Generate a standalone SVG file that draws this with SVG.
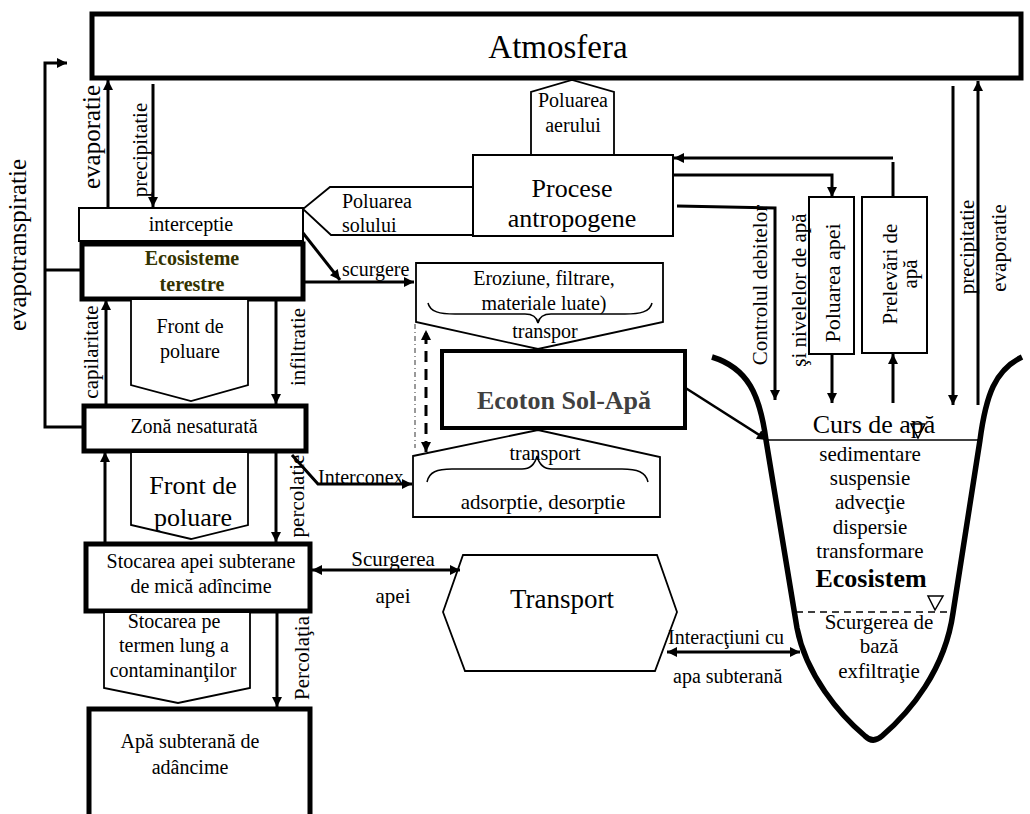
<svg xmlns="http://www.w3.org/2000/svg" width="1030" height="814" viewBox="0 0 1030 814">
<style>
  text { font-family: 'Liberation Serif', 'Times New Roman', Times, 'Noto Serif', 'DejaVu Serif', serif; fill: #000; font-size: 21px; }
  .c { text-anchor: middle; }
  .box { fill: #fff; stroke: #000; stroke-width: 2; }
  .thick { fill: #fff; stroke: #000; stroke-width: 5; }
  .shape { fill: #fff; stroke: #000; stroke-width: 1.8; }
  .flow { fill: none; stroke: #000; stroke-width: 3; }
  .thin { fill: none; stroke: #000; stroke-width: 1.5; }
  .f20 { font-size: 20px; }
  .big { font-size: 26px; }
</style>
<defs>
  <marker id="ah" viewBox="0 0 10 10" refX="10" refY="5" markerWidth="11" markerHeight="10" markerUnits="userSpaceOnUse" orient="auto-start-reverse">
    <path d="M0,0 L10,5 L0,10 z" fill="#000"/>
  </marker>
</defs>
<rect width="1030" height="814" fill="#fff"/>

<!-- Atmosphere -->
<g id="atmosfera">
  <rect class="thick" x="92" y="14" width="929" height="64"/>
  <text class="c" x="558" y="58" style="font-size:33px">Atmosfera</text>
</g>

<!-- Pollution shapes -->
<g id="poluarea-aerului">
  <path class="shape" d="M531,155 L531,92 L572,80 L614,92 L614,155"/>
  <text class="c f20" x="573" y="107">Poluarea</text>
  <text class="c f20" x="573" y="132">aerului</text>
</g>
<g id="poluarea-solului">
  <path class="shape" d="M473,187 L330,187 L303,209 L331,235 L473,235"/>
  <text class="f20" x="342" y="208">Poluarea</text>
  <text class="f20" x="342" y="232">solului</text>
</g>

<g id="procese-antropogene">
  <rect class="box" x="473" y="155" width="200" height="81"/>
  <text class="c big" x="572" y="197">Procese</text>
  <text class="c big" x="572" y="227">antropogene</text>
</g>

<!-- Terrestrial column -->
<g id="interceptie">
  <rect class="box" x="79" y="208" width="224" height="33"/>
  <text class="c f20" x="191" y="231">interceptie</text>
</g>
<g id="ecosisteme-terestre">
  <rect class="thick" x="82" y="244" width="221" height="55"/>
  <text class="c" x="192" y="265" font-weight="bold" style="fill:#333300;font-size:20px">Ecosisteme</text>
  <text class="c" x="192" y="291" font-weight="bold" style="fill:#333300;font-size:20px">terestre</text>
</g>
<g id="front-poluare-1">
  <path class="shape" d="M131,300 L131,385 L191,401 L248,385 L248,300"/>
  <text class="c f20" x="190" y="333">Front de</text>
  <text class="c f20" x="190" y="358">poluare</text>
</g>
<g id="zona-nesaturata">
  <rect class="thick" x="84" y="406" width="222" height="45"/>
  <text class="c f20" x="194" y="433">Zonă nesaturată</text>
</g>
<g id="front-poluare-2">
  <path class="shape" d="M131,453 L131,525 L191,539 L248,525 L248,453"/>
  <text class="c big" x="193" y="494">Front de</text>
  <text class="c big" x="193" y="526">poluare</text>
</g>
<g id="stocarea-mica">
  <rect class="thick" x="86" y="544" width="224" height="67"/>
  <text class="c f20" x="201" y="568">Stocarea apei subterane</text>
  <text class="c f20" x="201" y="593">de mică adîncime</text>
</g>
<g id="stocarea-termen-lung">
  <path class="shape" d="M104,613 L104,688 L178,703 L250,688 L250,613"/>
  <text class="c f20" x="174" y="628">Stocarea pe</text>
  <text class="c f20" x="174" y="652">termen lung a</text>
  <text class="c f20" x="173" y="677">contaminanţilor</text>
</g>
<g id="apa-adancime">
  <rect class="thick" x="89" y="709" width="221" height="120"/>
  <text class="c f20" x="190" y="748">Apă subterană de</text>
  <text class="c f20" x="190" y="774">adâncime</text>
</g>

<!-- Soil-water ecotone -->
<g id="eroziune">
  <path class="shape" d="M416,263 L663,263 L663,322 L538,349 L416,322 Z"/>
  <text class="c f20" x="544" y="285">Eroziune, filtrare,</text>
  <text class="c f20" x="544" y="310">materiale luate)</text>
  <path class="thin" d="M428,303 C430,312 440,314 455,314 L525,314 C533,314 537,318 538,323 C539,318 543,314 551,314 L625,314 C640,314 650,312 652,303"/>
  <text class="c f20" x="545" y="338">transpor</text>
</g>
<g id="ecoton">
  <rect class="box" x="442" y="351" width="243" height="77" style="stroke-width:4"/>
  <text class="c big" x="564" y="409" font-weight="bold" style="fill:#404040">Ecoton Sol-Apă</text>
</g>
<g id="adsorptie">
  <path class="shape" d="M413,456 L538,430 L660,457 L660,517 L413,517 Z"/>
  <text class="c f20" x="545" y="460">transport</text>
  <path class="thin" d="M427,482 C429,472 437,469 452,469 L522,469 C531,469 535,464 537,456 C539,464 543,469 552,469 L622,469 C637,469 646,472 648,482"/>
  <text class="c" x="543" y="509">adsorptie, desorptie</text>
</g>

<g id="transport">
  <path class="shape" d="M463,555 L657,555 L677,612 L655,671 L465,671 L443,612 Z"/>
  <text class="c" x="562" y="608" style="font-size:27px">Transport</text>
</g>

<!-- Water use boxes -->
<g id="poluarea-apei">
  <rect class="box" x="809" y="197" width="45" height="157"/>
  <text class="c" transform="translate(840,283) rotate(-90)" style="font-size:22px">Poluarea apei</text>
</g>
<g id="prelevari">
  <rect class="box" x="862" y="197" width="65" height="156"/>
  <text class="c" transform="translate(897,274) rotate(-90)">Prelevări de</text>
  <text class="c" transform="translate(917,274) rotate(-90)">apă</text>
</g>

<!-- River channel -->
<g id="curs-de-apa">
  <path d="M712,357 C748,368 760,395 766,440 L797,628 C806,675 840,715 865,736 Q873,744 882,736 C910,712 945,670 953,613 L980,440 C986,395 995,370 1022,357" fill="none" stroke="#000" stroke-width="5.5"/>
  <line x1="767" y1="440" x2="980" y2="440" stroke="#000" stroke-width="1.3"/>
  <line x1="796" y1="612" x2="955" y2="612" stroke="#000" stroke-width="1.5" stroke-dasharray="7,5"/>
  <text class="c big" x="874" y="433">Curs de apă</text>
  <path d="M911,424 L925,424 L918,438 Z" fill="none" stroke="#000" stroke-width="1.5"/>
  <path d="M928,596 L943,596 L935,610 Z" fill="none" stroke="#000" stroke-width="1.5"/>
  <text class="c" x="870" y="461">sedimentare</text>
  <text class="c" x="870" y="485">suspensie</text>
  <text class="c" x="870" y="509">advecţie</text>
  <text class="c" x="870" y="534">dispersie</text>
  <text class="c" x="870" y="558">transformare</text>
  <text class="c big" x="871" y="587" font-weight="bold">Ecosistem</text>
  <text class="c" x="879" y="629">Scurgerea de</text>
  <text class="c" x="879" y="653">bază</text>
  <text class="c" x="879" y="678">exfiltraţie</text>
</g>

<!-- Connectors -->
<g id="connectors">
  <!-- evapotranspiration loop -->
  <path class="flow" d="M82,270 L45,270"/>
  <path class="flow" d="M84,427 L45,427 L45,63 L67,63" marker-end="url(#ah)"/>
  <!-- atmosphere exchanges, land side -->
  <path class="flow" d="M108,208 L108,80" marker-end="url(#ah)"/>
  <path class="flow" d="M153,84 L153,207" marker-end="url(#ah)"/>
  <!-- vertical column -->
  <path class="flow" d="M106,406 L106,300" marker-end="url(#ah)"/>
  <path class="flow" d="M276,300 L276,404" marker-end="url(#ah)"/>
  <path class="flow" d="M105,544 L105,452" marker-end="url(#ah)"/>
  <path class="flow" d="M276,452 L276,542" marker-end="url(#ah)"/>
  <path class="flow" d="M277,612 L277,707" marker-end="url(#ah)"/>
  <!-- runoff -->
  <path class="flow" d="M303,233 L340,280" marker-end="url(#ah)"/>
  <path class="flow" d="M305,282 L414,282" marker-end="url(#ah)"/>
  <!-- interconnection -->
  <path class="flow" d="M292,455 L318,484 L412,484" marker-end="url(#ah)"/>
  <!-- ecotone exchanges -->
  <path d="M426,452 L426,330" fill="none" stroke="#000" stroke-width="3" stroke-dasharray="11,7" marker-start="url(#ah)" marker-end="url(#ah)"/>
  <path d="M415,324 L415,448" fill="none" stroke="#000" stroke-width="0.8" stroke-dasharray="5,3,1,3"/>
  <path class="flow" d="M684,387 L767,440" marker-end="url(#ah)" style="stroke-width:2.5"/>
  <!-- subsurface flows -->
  <path class="flow" d="M312,570 L460,570" marker-start="url(#ah)" marker-end="url(#ah)"/>
  <path class="flow" d="M667,652 L800,652" marker-start="url(#ah)" marker-end="url(#ah)"/>
  <!-- anthropogenic links -->
  <path class="flow" d="M893,198 L893,162"/>
  <path class="flow" d="M893,158 L674,158" marker-end="url(#ah)"/>
  <path class="flow" d="M673,175 L832,175 L832,197" marker-end="url(#ah)"/>
  <path class="flow" d="M677,206 L775,208 L775,400" marker-end="url(#ah)"/>
  <path class="flow" d="M832,354 L832,403" marker-end="url(#ah)"/>
  <path class="flow" d="M893,403 L893,354" marker-end="url(#ah)"/>
  <!-- atmosphere exchanges, river side -->
  <path class="flow" d="M953,86 L953,405" marker-end="url(#ah)"/>
  <path class="flow" d="M978,405 L978,81" marker-end="url(#ah)"/>
</g>

<!-- Connector labels -->
<g id="labels">
  <text class="c" transform="translate(26,245) rotate(-90)" style="font-size:25px">evapotranspiratie</text>
  <text class="c" transform="translate(100,137) rotate(-90)" style="font-size:25px">evaporatie</text>
  <text class="c" transform="translate(147,150) rotate(-90)">precipitatie</text>
  <text class="c" transform="translate(98,352) rotate(-90)">capilaritate</text>
  <text class="c" transform="translate(305,347) rotate(-90)">infiltratie</text>
  <text class="c" transform="translate(304,496) rotate(-90)">percolatie</text>
  <text class="c" transform="translate(309,658) rotate(-90)">Percolaţia</text>
  <text class="f20" x="342" y="276">scurgere</text>
  <text class="f20" x="318" y="484">Interconex</text>
  <text class="c" x="393" y="566">Scurgerea</text>
  <text class="c" x="393" y="603">apei</text>
  <text class="f20" x="668" y="644">Interacţiuni cu</text>
  <text class="f20" x="673" y="683">apa subterană</text>
  <text class="c" transform="translate(767,285) rotate(-90)">Controlul debitelor</text>
  <text class="c" transform="translate(806,290) rotate(-90)">şi nivelelor de apă</text>
  <text class="c" transform="translate(974,247) rotate(-90)">precipitatie</text>
  <text class="c" transform="translate(1006,248) rotate(-90)">evaporatie</text>
</g>
</svg>
